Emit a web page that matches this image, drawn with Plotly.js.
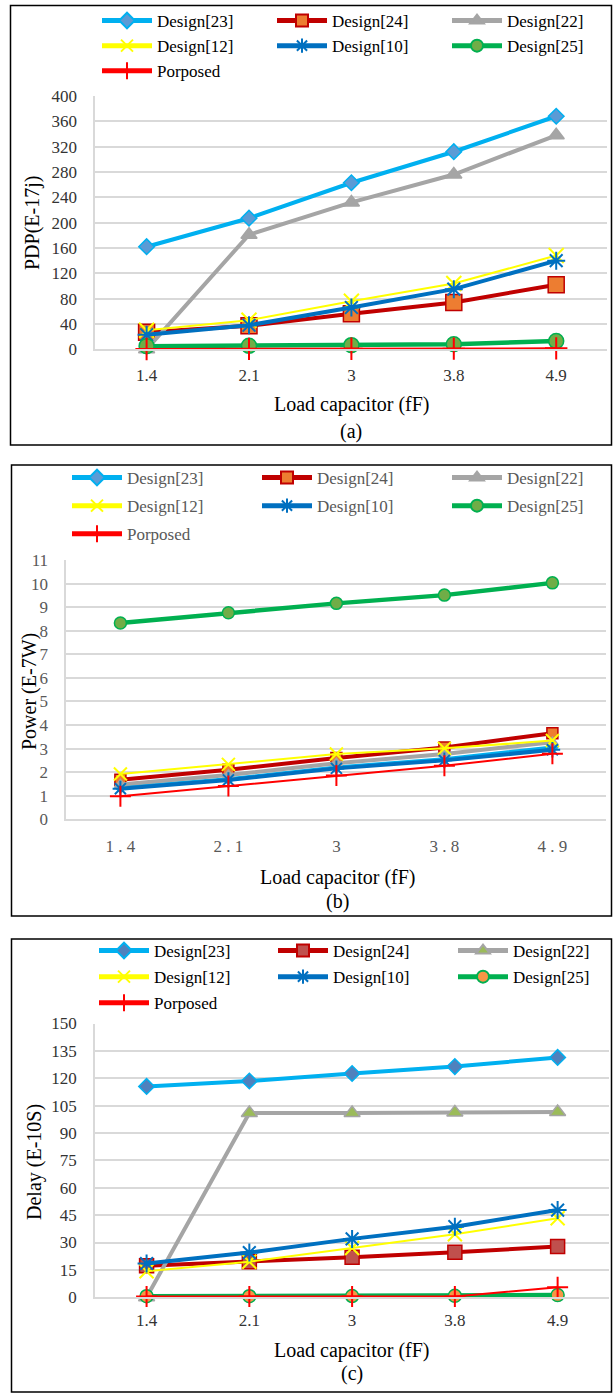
<!DOCTYPE html>
<html>
<head>
<meta charset="utf-8">
<script src="https://cdn.plot.ly/plotly-3.0.1.min.js"></script>
<style>html,body{margin:0;padding:0;background:#fff;}#chart{width:613px;height:1393px;}</style>
</head>
<body>
<div id="chart"></div>
<script>
// ---- data ----
const categories = ['1.4', '2.1', '3', '3.8', '4.9'];
const tickLabelsA = ['1.4', '2.1', '3', '3.8', '4.9'];
const tickLabelsB = ['1 . 4', '2 . 1', '3', '3 . 8', '4 . 9'];
const tickLabelsC = ['1.4', '2.1', '3', '3.8', '4.9'];
const seriesNames = ['Design[23]', 'Design[24]', 'Design[22]', 'Design[12]', 'Design[10]', 'Design[25]', 'Porposed'];

const pdpDesign23 = [162, 207, 263, 312, 368];
const pdpDesign24 = [27, 37, 56, 74, 102];
const pdpDesign22 = [0, 181, 232, 276, 338];
const pdpDesign12 = [30, 46, 76, 104, 148];
const pdpDesign10 = [23, 38, 66, 95, 140];
const pdpDesign25 = [5, 5.5, 6.5, 8, 13];
const pdpPorposed = [0.5, 0.6, 0.8, 1.0, 1.5];

const powerDesign23 = [1.35, 1.7, 2.2, 2.55, 3.05];
const powerDesign24 = [1.68, 2.1, 2.6, 3.05, 3.65];
const powerDesign22 = [1.48, 1.88, 2.38, 2.77, 3.27];
const powerDesign12 = [1.92, 2.33, 2.77, 3.01, 3.34];
const powerDesign10 = [1.3, 1.67, 2.16, 2.5, 2.95];
const powerDesign25 = [8.33, 8.76, 9.16, 9.51, 10.03];
const powerPorposed = [0.98, 1.41, 1.86, 2.27, 2.78];

const delayDesign23 = [115.5, 118.5, 122.6, 126.4, 131.4];
const delayDesign24 = [17.3, 19.5, 22, 24.7, 27.8];
const delayDesign22 = [0, 101, 101, 101.3, 101.5];
const delayDesign12 = [14.3, 19.5, 27, 34.5, 43.3];
const delayDesign10 = [18.5, 24.5, 32, 38.7, 47.8];
const delayDesign25 = [0.6, 0.6, 0.7, 0.8, 1.2];
const delayPorposed = [0.4, 0.4, 0.5, 0.5, 5.5];

// ---- styles ----
const W = 613, H = 1393;
const FONT = 'Liberation Serif';
const lineColors = ['#00B0F0', '#C00000', '#A5A5A5', '#FFFF00', '#0070C0', '#00B050', '#FF0000'];
const lineWidths = [4, 4, 4, 2, 4, 4.5, 2];
const symbols = ['diamond', 'square', 'triangle-up', 'x-thin-open', 'asterisk-open', 'circle', 'cross-thin-open'];
const fillsAB = ['#5B9BD5', '#ED7D31', '#A5A5A5', '#FFFF00', '#0070C0', '#70AD47', '#FF0000'];
const fillsC = ['#4F81BD', '#C0504D', '#9BBB59', '#FFFF00', '#0070C0', '#F79646', '#FF0000'];
const sizesA = [12, 16, 14, 15, 15, 15, 16];
const sizesB = [8, 11, 10, 13, 13, 12, 15];
const sizesC = [12, 14, 14, 14, 15, 13, 15];

function makeTraces(p, values, xa, ya, fills, sizes) {
  return values.map((v, i) => {
    const open = symbols[i].indexOf('open') >= 0;
    const li = p * 3 + (i % 3) + 1;
    return {
      type: 'scatter', mode: 'lines+markers',
      x: categories, y: v, xaxis: xa, yaxis: ya,
      name: seriesNames[i], legend: li === 1 ? 'legend' : 'legend' + li,
      legendgroup: 'p' + p + 's' + i,
      cliponaxis: false,
      line: {color: lineColors[i], width: lineWidths[i]},
      marker: {
        symbol: symbols[i], size: sizes[i],
        color: open ? lineColors[i] : fills[i],
        line: {color: lineColors[i], width: open ? 2 : 1.5}
      }
    };
  });
}

const traces = [].concat(
  makeTraces(0, [pdpDesign23, pdpDesign24, pdpDesign22, pdpDesign12, pdpDesign10, pdpDesign25, pdpPorposed], 'x', 'y', fillsAB, sizesA),
  makeTraces(1, [powerDesign23, powerDesign24, powerDesign22, powerDesign12, powerDesign10, powerDesign25, powerPorposed], 'x2', 'y2', fillsAB, sizesB),
  makeTraces(2, [delayDesign23, delayDesign24, delayDesign22, delayDesign12, delayDesign10, delayDesign25, delayPorposed], 'x3', 'y3', fillsC, sizesC)
);

const px = v => v / W;
const py = v => 1 - v / H;
const gridC = '#D9D9D9';

function xAxis(domL, domR, anchor, ticks, color, standoff) {
  return {
    domain: [px(domL), px(domR)], anchor: anchor, type: 'category',
    categoryorder: 'array', categoryarray: categories,
    tickmode: 'array', tickvals: categories, ticktext: ticks,
    range: [-0.5, 4.5], showgrid: false, zeroline: false,
    showline: true, linecolor: gridC, linewidth: 2,
    ticks: '', ticklabelstandoff: standoff,
    tickfont: {family: FONT, size: 17, color: color}
  };
}
function yAxis(domT, domB, anchor, max, dtick, color) {
  return {
    domain: [py(domB), py(domT)], anchor: anchor,
    range: [0, max], dtick: dtick, tick0: 0,
    showgrid: true, gridcolor: gridC, gridwidth: 2,
    zeroline: false, showline: true, linecolor: gridC, linewidth: 2,
    ticks: '', ticklabelstandoff: 13,
    tickfont: {family: FONT, size: 17, color: color}
  };
}
function legendDef(x, yTop, gap, color) {
  return {
    orientation: 'v', x: px(x), y: py(yTop), xanchor: 'left', yanchor: 'top',
    itemwidth: 50, itemsizing: 'constant', tracegroupgap: gap, traceorder: 'grouped',
    bgcolor: 'rgba(0,0,0,0)', borderwidth: 0,
    font: {family: FONT, size: 17, color: color}
  };
}
// legend columns: [left x, top y, group gap, text colour]
const legendCols = [
  [97, 3, 0, '#000'], [272, 3, 0, '#000'], [447, 3, 0, '#000'],
  [67, 460, 3, '#595959'], [257, 460, 3, '#595959'], [447, 460, 3, '#595959'],
  [94, 933, 1, '#000'], [273, 933, 1, '#000'], [453, 933, 1, '#000']
];

function ann(text, x, y, size, angle) {
  return {text: text, x: px(x), y: py(y), xref: 'paper', yref: 'paper', xanchor: 'center', yanchor: 'middle',
          showarrow: false, textangle: angle || 0, font: {family: FONT, size: size, color: '#000'}};
}

const layout = {
  width: W, height: H,
  margin: {l: 0, r: 0, t: 0, b: 0},
  paper_bgcolor: '#fff', plot_bgcolor: '#fff',
  showlegend: true,
  xaxis: xAxis(95.4, 607.4, 'y', tickLabelsA, '#333', 9),
  yaxis: yAxis(96, 349.3, 'x', 400, 40, '#333'),
  xaxis2: xAxis(66.4, 606.4, 'y2', tickLabelsB, '#595959', 10),
  yaxis2: yAxis(560, 819.3, 'x2', 11, 1, '#595959'),
  xaxis3: xAxis(95.2, 609, 'y3', tickLabelsC, '#333', 6),
  yaxis3: yAxis(1023.5, 1297.3, 'x3', 150, 15, '#333'),
  annotations: [
    ann('Load capacitor (fF)', 351, 404, 20),
    ann('(a)', 351, 431, 20),
    ann('PDP(E-17j)', 32, 223, 20, -90),
    ann('Load capacitor (fF)', 337, 877, 20),
    ann('(b)', 337, 901, 20),
    ann('Power (E-7W)', 29, 692, 20, -90),
    ann('Load capacitor (fF)', 352, 1350, 20),
    ann('(c)', 352, 1373, 20),
    ann('Delay (E-10S)', 34, 1162, 20, -90)
  ],
  shapes: [
    {type: 'rect', xref: 'paper', yref: 'paper', x0: px(10.5), x1: px(611.5), y0: py(445), y1: py(5.5), line: {color: '#000', width: 1.5}},
    {type: 'rect', xref: 'paper', yref: 'paper', x0: px(11.5), x1: px(611.5), y0: py(916), y1: py(465), line: {color: '#000', width: 1.5}},
    {type: 'rect', xref: 'paper', yref: 'paper', x0: px(11.5), x1: px(611.5), y0: py(1392), y1: py(939), line: {color: '#000', width: 1.5}}
  ]
};
legendCols.forEach((c, k) => {
  layout[k === 0 ? 'legend' : 'legend' + (k + 1)] = legendDef(c[0], c[1], c[2], c[3]);
});

Plotly.newPlot('chart', traces, layout, {displayModeBar: false, staticPlot: true});
</script>
</body>
</html>
